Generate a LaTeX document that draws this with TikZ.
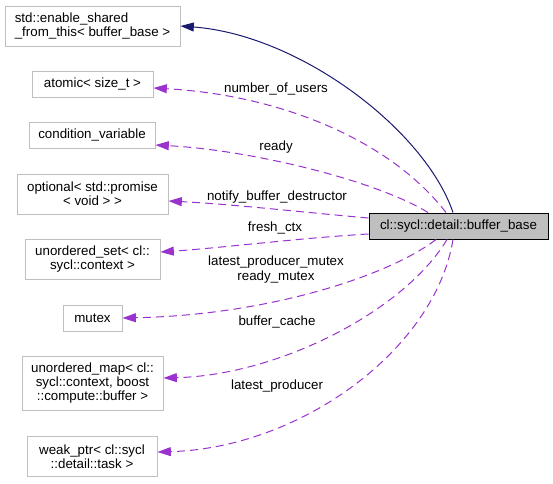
\documentclass[tikz,border=0pt]{standalone}
\usepackage{fontspec}
\setmainfont{Liberation Sans}
\usetikzlibrary{arrows.meta}
\definecolor{boxgray}{RGB}{191,191,191}
\definecolor{memberpurple}{RGB}{154,50,205}
\definecolor{inheritblue}{RGB}{25,25,112}
\begin{document}
\begin{tikzpicture}[x=0.75pt,y=-0.75pt,>={Triangle[length=10pt,width=6.7pt]},
  cls/.style={draw=boxgray,line width=0.75pt,inner sep=0pt,align=center,font=\fontsize{10}{10.5}\selectfont},
  member/.style={->,memberpurple,dash pattern=on 6pt off 3.75pt,line width=0.75pt},
  lbl/.style={inner sep=0pt,align=center,font=\fontsize{10}{11}\selectfont}]
\useasboundingbox (0,0) rectangle (553,483);
% used classes
\node[cls,align=left,minimum width=131.25pt,minimum height=30pt] (esft) at (92.5,26) {std::enable\_shared\\\_from\_this< buffer\_base >};
\node[cls,minimum width=90.75pt,minimum height=19.5pt] (atomic) at (92.5,84) {atomic< size\_t >};
\node[cls,minimum width=94.5pt,minimum height=19.5pt] (condvar) at (92,135) {condition\_variable};
\node[cls,minimum width=113.25pt,minimum height=30pt] (optional) at (92.5,194) {optional< std::promise\\< void > >};
\node[cls,minimum width=101.25pt,minimum height=30pt] (uset) at (92.5,259) {unordered\_set< cl::\\sycl::context >};
\node[cls,minimum width=44.25pt,minimum height=19.5pt] (mutex) at (92.5,318) {mutex};
\node[cls,minimum width=105.75pt,minimum height=40.5pt] (umap) at (92.5,383) {unordered\_map< cl::\\sycl::context, boost\\::compute::buffer >};
\node[cls,minimum width=97.5pt,minimum height=30pt] (wptr) at (92,456.5) {weak\_ptr< cl::sycl\\::detail::task >};
% the class itself
\node[cls,draw=black,fill=boxgray,minimum width=134.25pt,minimum height=19.5pt] (main) at (458.5,226) {cl::sycl::detail::buffer\_base};

% inheritance
\draw[->,inheritblue,line width=0.75pt] ([xshift=-4.125pt]main.north) .. controls (425,130) and (300,35) .. (esft.east);
% members
\draw[member] ([xshift=-9.375pt]main.north) .. controls (390,140) and (280,95) .. ([yshift=-3pt]atomic.east);
\draw[member] ([xshift=-22.875pt]main.north) .. controls (375,180) and (250,150) .. ([yshift=-7.5pt]condvar.east);
\draw[member] ([yshift=6pt]main.west) .. controls (300,212) and (230,204) .. ([yshift=-5.25pt]optional.east);
\draw[member] ([yshift=-6pt]main.west) .. controls (300,238) and (220,248) .. ([yshift=5.25pt]uset.east);
\draw[member] ([xshift=-16.875pt]main.south) .. controls (390,275) and (270,315) .. (mutex.east);
\draw[member] ([xshift=-8.625pt]main.south) .. controls (405,310) and (280,375) .. ([yshift=3.75pt]umap.east);
\draw[member] ([xshift=-4.125pt]main.south) .. controls (435,350) and (300,448) .. ([yshift=3.375pt]wptr.east);

\node[lbl] (lusers) at (276,89) {number\_of\_users};
\node[lbl] (lready) at (276,147) {ready};
\node[lbl] (lnotify) at (277,197) {notify\_buffer\_destructor};
\node[lbl] (lfresh) at (275,228) {fresh\_ctx};
\node[lbl] (lmutex) at (276,269.5) {latest\_producer\_mutex\\ready\_mutex};
\node[lbl] (lcache) at (277,322) {buffer\_cache};
\node[lbl] (lproducer) at (277,386) {latest\_producer};
\end{tikzpicture}
\end{document}
